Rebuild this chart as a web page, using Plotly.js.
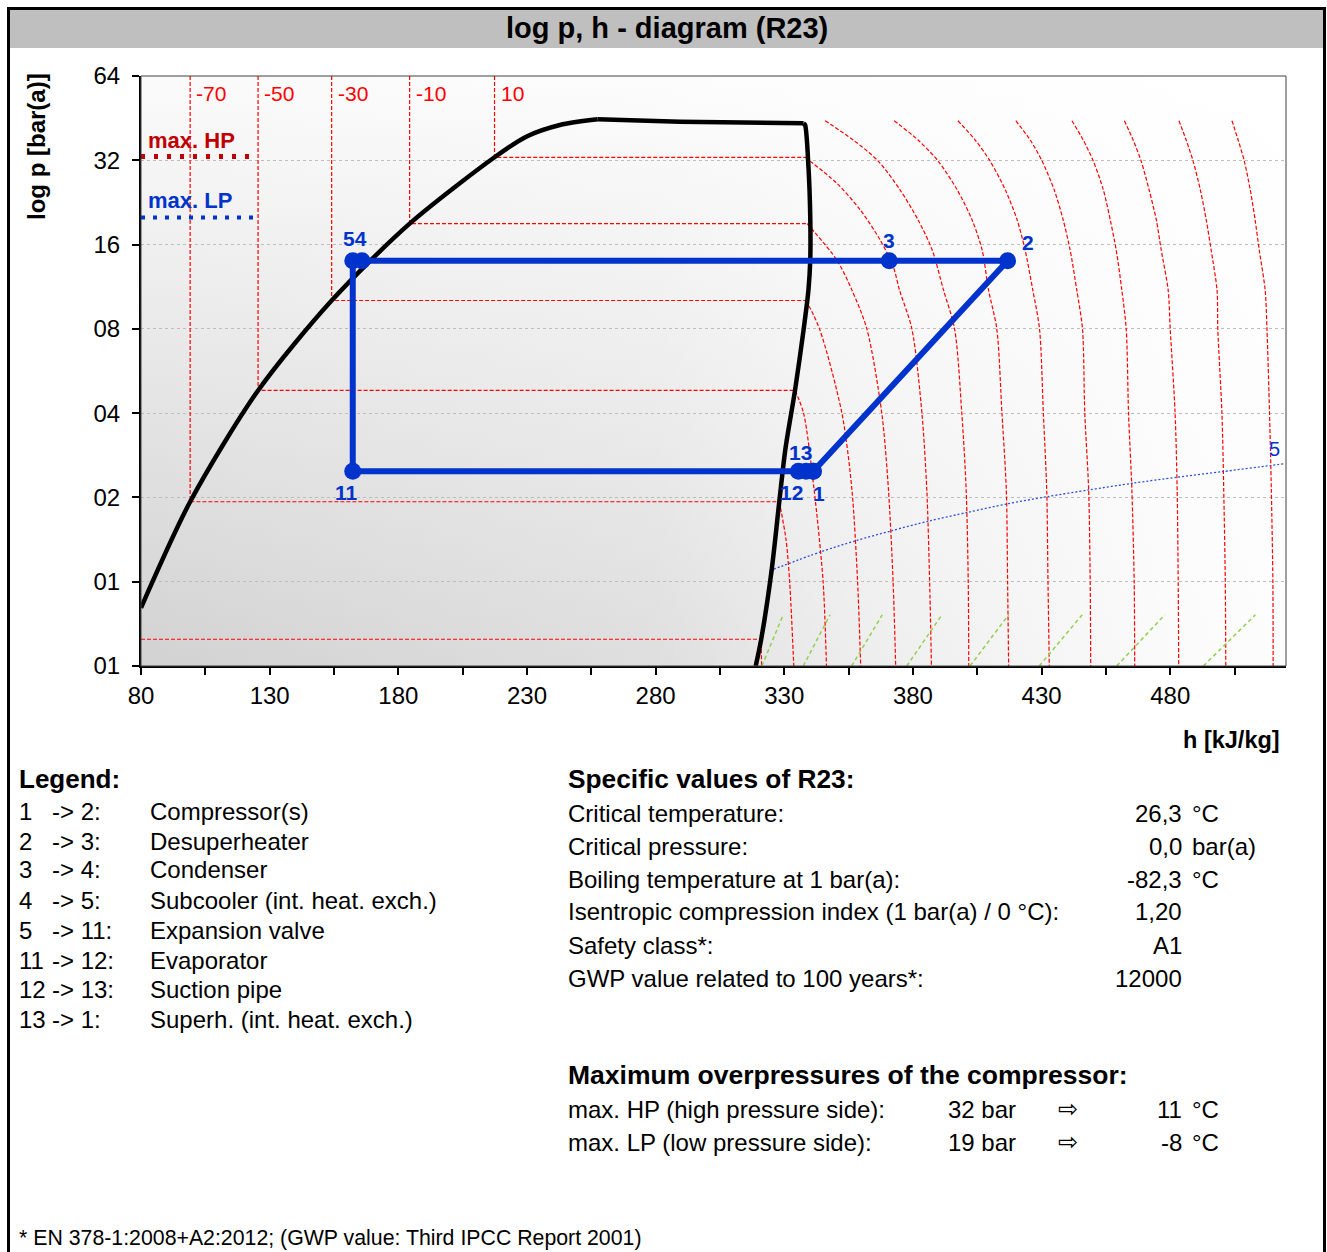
<!DOCTYPE html>
<html><head><meta charset="utf-8">
<script src="https://cdn.plot.ly/plotly-3.0.1.min.js"></script>
<style>html,body{margin:0;padding:0;background:#fff;} #chart{width:1327px;height:1252px;}</style>
</head><body><div id="chart"></div>
<script>
// ---------------- DATA ----------------
// saturation dome: liquid line (to the top), vapour line (from the top corner down)
const liqH = [80, 99.1, 125.5, 154.1, 184.4, 217.4, 229.7, 242.8, 257.5];
const liqP = [0.807, 1.93, 4.82, 10.1, 19.0, 32.8, 38.85, 42.77, 44.82];
const domeTopH = [257.5, 289.5, 337.5];
const domeTopP = [44.82, 43.94, 43.37];
const vapH = [337.5, 338.1, 339.4, 340.1, 340.1, 339.4, 337.5, 334.2, 330.4, 328.1, 325.1, 321.0, 318.9];
const vapP = [43.37, 42.77, 30.37, 20.11, 14.10, 11.01, 7.93, 4.84, 2.958, 1.943, 1.10, 0.620, 0.50];

// isotherms that start in the two-phase region (°C)
const isoLowTemps = [-90, -70, -50, -30, -10, 10];
const isoM90H = [80, 321.0, 321.2];
const isoM90P = [0.623, 0.623, 0.5];
const isoM70H = [99.1, 99.1, 328.1, 330.7, 332.1, 333.7];
const isoM70P = [64, 1.93, 1.93, 1.41, 1.0, 0.5];
const isoM50H = [125.5, 125.5, 334.2, 337.5, 341.6, 345.1, 346.4];
const isoM50P = [64, 4.82, 4.82, 4.0, 2.13, 1.0, 0.5];
const isoM30H = [154.1, 154.1, 338.5, 343.7, 352.4, 356.3, 358.5, 359.7];
const isoM30P = [64, 10.1, 10.1, 8.0, 4.0, 2.13, 1.0, 0.5];
const isoM10H = [184.4, 184.4, 338.9, 350.4, 356.3, 362.1, 367.9, 370.5, 372.3, 373.3];
const isoM10P = [64, 19.0, 19.0, 14.1, 11.0, 8.0, 4.0, 2.13, 1.0, 0.5];
const isoP10H = [217.4, 217.4, 338.1, 350.4, 359.5, 367.3, 372.4, 374.8, 379.6, 383.5, 385.4, 386.5, 387.2];
const isoP10P = [64, 32.8, 32.8, 26.5, 21.3, 16.6, 13.3, 11.0, 8.0, 4.0, 2.13, 1.0, 0.5];
const isoTopLabels = ['-70', '-50', '-30', '-10', '10'];
const isoTopLabelH = [99.1, 125.5, 154.1, 184.4, 217.4];

// supercritical / superheated isotherms on a shared pressure grid
const shTemps = [30, 50, 70, 90, 110, 130, 150, 170];
const shP = [44.3, 37.8, 31.8, 25.1, 19.6, 15.3, 11.0, 8.0, 4.0, 2.13, 1.0, 0.5];
const iso30H  = [345.9, 356.8, 366.5, 375.0, 382.0, 387.5, 391.9, 396.2, 399.0, 400.7, 401.5, 401.7];
const iso50H  = [372.7, 382.0, 389.8, 397.2, 403.0, 406.9, 409.4, 412.6, 414.6, 416.3, 416.8, 417.2];
const iso70H  = [397.5, 404.2, 410.0, 415.9, 420.5, 423.6, 426.6, 429.2, 430.7, 432.0, 432.5, 433.0];
const iso90H  = [420.0, 425.6, 430.2, 434.9, 438.4, 441.1, 443.7, 445.9, 446.8, 448.3, 448.9, 449.1];
const iso110H = [441.8, 446.2, 450.1, 454.0, 456.7, 459.0, 461.2, 462.9, 463.8, 465.1, 466.0, 466.2];
const iso130H = [462.2, 465.6, 468.7, 471.8, 474.6, 476.5, 479.2, 480.0, 481.9, 482.7, 483.1, 483.3];
const iso150H = [483.4, 486.2, 488.9, 491.7, 494.0, 495.9, 498.2, 498.5, 500.1, 500.8, 501.4, 501.6];
const iso170H = [504.0, 506.4, 508.8, 511.1, 513.0, 514.6, 516.9, 517.6, 518.6, 519.3, 519.9, 520.0];

// short green lines near the bottom
const greenP = [0.5, 0.762];
const greenH = [[321.3, 329.6], [337.4, 347.8], [356.2, 368.1], [377.6, 391.3], [402.2, 417.2], [429.1, 445.8], [459.2, 477.9], [492.9, 513.1]];

// blue dotted line "5"
const line5H = [324.4, 344.2, 357.9, 371.5, 386.5, 401.5, 416.5, 432.2, 448.5, 465.6, 482.6, 500.7, 518.9, 524.3];
const line5P = [1.095, 1.279, 1.402, 1.519, 1.649, 1.771, 1.896, 2.013, 2.128, 2.249, 2.362, 2.475, 2.600, 2.636];

// refrigeration cycle 1-2-3-4-5-11-12-13-1
const cycleNames = ['1', '2', '3', '4', '5', '11', '12', '13', '1'];
const cycleH = [341.3, 416.8, 370.8, 165.9, 162.3, 162.3, 335.5, 338.5, 341.3];
const cycleP = [2.48, 14.0, 14.0, 14.0, 14.0, 2.48, 2.48, 2.48, 2.48];

// compressor limits (absolute pressure)
const maxHP_P = 33, maxLP_P = 20;
const limitH = [80, 124];

// axis ticks
const xTickVals = [80, 105, 130, 155, 180, 205, 230, 255, 280, 305, 330, 355, 380, 405, 430, 455, 480, 505];
const xTickText = ['80', '', '130', '', '180', '', '230', '', '280', '', '330', '', '380', '', '430', '', '480', ''];
const yTickVals = [0.5, 1, 2, 4, 8, 16, 32, 64];
const yTickText = ['01', '01', '02', '04', '08', '16', '32', '64'];

// text blocks
const legendFrom = ['1', '2', '3', '4', '5', '11', '12', '13'];
const legendTo = ['-> 2:', '-> 3:', '-> 4:', '-> 5:', '-> 11:', '-> 12:', '-> 13:', '-> 1:'];
const legendDesc = ['Compressor(s)', 'Desuperheater', 'Condenser', 'Subcooler (int. heat. exch.)', 'Expansion valve', 'Evaporator', 'Suction pipe', 'Superh. (int. heat. exch.)'];
const specLabels = ['Critical temperature:', 'Critical pressure:', 'Boiling temperature at 1 bar(a):', 'Isentropic compression index (1 bar(a) / 0 °C):', 'Safety class*:', 'GWP value related to 100 years*:'];
const specValues = ['26,3', '0,0', '-82,3', '1,20', 'A1', '12000'];
const specUnits = ['°C', 'bar(a)', '°C', '', '', ''];
const maxLabels = ['max. HP (high pressure side):', 'max. LP (low pressure side):'];
const maxBar = ['32 bar', '19 bar'];
const maxTemp = ['11', '-8'];

// ---------------- LAYOUT HELPERS ----------------
const L = 141, R = 1286, T = 76, B = 666;
const px = x => (x - L) / (R - L);
const py = y => (B - y) / (B - T);
const FONT = 'Arial, "Liberation Sans", sans-serif';
const RED = '#ff0000', BLUE = '#0033cc';

function makeBg() {
  const w = 1145, h = 590;
  const c = document.createElement('canvas'); c.width = w; c.height = h;
  const g = c.getContext('2d');
  const v = g.createLinearGradient(0, 0, 0, h);
  v.addColorStop(0, '#fbfbfb'); v.addColorStop(1, '#d2d2d2');
  g.fillStyle = v; g.fillRect(0, 0, w, h);
  const hz = g.createLinearGradient(0, 0, w, 0);
  hz.addColorStop(0, 'rgba(255,255,255,0)');
  hz.addColorStop(0.45, 'rgba(255,255,255,0.28)');
  hz.addColorStop(0.62, 'rgba(255,255,255,0.6)');
  hz.addColorStop(0.9, 'rgba(255,255,255,0.9)');
  hz.addColorStop(1, 'rgba(255,255,255,0.95)');
  g.fillStyle = hz; g.fillRect(0, 0, w, h);
  return c.toDataURL();
}

const traces = [];
function line(h, p, color, width, dash, shape) {
  traces.push({type: 'scatter', mode: 'lines', x: h, y: p,
               line: {color: color, width: width, dash: dash, shape: shape || 'linear', smoothing: 0.8},
               hoverinfo: 'skip', showlegend: false});
}
// isotherms: straight two-phase part + smooth superheated part
const isoDash = '4px,2px';
[[isoM90H, isoM90P], [isoM70H, isoM70P], [isoM50H, isoM50P], [isoM30H, isoM30P], [isoM10H, isoM10P], [isoP10H, isoP10P]]
  .forEach(a => {
    line(a[0].slice(0, 3), a[1].slice(0, 3), RED, 1.2, isoDash);
    if (a[0].length > 3) line(a[0].slice(2), a[1].slice(2), RED, 1.2, isoDash, 'spline');
  });
[iso30H, iso50H, iso70H, iso90H, iso110H, iso130H, iso150H, iso170H].forEach(h => line(h, shP, RED, 1.2, isoDash, 'spline'));
// green lines
greenH.forEach(h => line(h, greenP, '#92d050', 1.5, '4px,3px'));
// blue dotted line
line(line5H, line5P, '#2a4fd8', 1.3, '2px,2px', 'spline');
// saturation dome
line(liqH, liqP, '#000000', 4.5, 'solid', 'spline');
line(domeTopH, domeTopP, '#000000', 4.5, 'solid');
line(vapH, vapP, '#000000', 4.5, 'solid', 'spline');
// limits
line(limitH, [maxHP_P, maxHP_P], '#c00000', 5, '4px,9px');
line(limitH, [maxLP_P, maxLP_P], BLUE, 4, '4px,8px');
// cycle
traces.push({type: 'scatter', mode: 'lines+markers', x: cycleH, y: cycleP,
  line: {color: BLUE, width: 6}, marker: {color: BLUE, size: 17},
  hoverinfo: 'skip', showlegend: false});

// ---------------- ANNOTATIONS ----------------
const ann = [];
function txt(x, y, text, size, opts) {
  ann.push(Object.assign({xref: 'paper', yref: 'paper', x: px(x), y: py(y), text: text, showarrow: false,
    borderpad: 0, borderwidth: 0,
    xanchor: 'left', yanchor: 'middle', font: {family: FONT, size: size, color: '#000'}}, opts || {}));
}
// titles
txt(667, 28, '<b>log p, h - diagram (R23)</b>', 29, {xanchor: 'center'});
txt(36, 147, '<b>log p [bar(a)]</b>', 24, {xanchor: 'center', textangle: -90});
txt(1280, 740, '<b>h [kJ/kg]</b>', 23.5, {xanchor: 'right'});
// isotherm labels at top
isoTopLabels.forEach((t, i) => ann.push({xref: 'x', yref: 'paper', x: isoTopLabelH[i], y: py(93), text: t,
  showarrow: false, borderpad: 0, xanchor: 'left', yanchor: 'middle', xshift: 5, font: {family: FONT, size: 21, color: RED}}));
// limit labels
ann.push({xref: 'x', yref: 'y', x: 80, y: Math.log10(maxHP_P), text: '<b>max. HP</b>', showarrow: false, borderpad: 0,
  xanchor: 'left', yanchor: 'bottom', xshift: 6, yshift: 3, font: {family: FONT, size: 22, color: '#c00000'}});
ann.push({xref: 'x', yref: 'y', x: 80, y: Math.log10(maxLP_P), text: '<b>max. LP</b>', showarrow: false, borderpad: 0,
  xanchor: 'left', yanchor: 'bottom', xshift: 6, yshift: 3, font: {family: FONT, size: 22, color: BLUE}});
// cycle point labels
const cyLab = [
  {i: 4, t: '54', dx: 2, dy: 22}, {i: 2, t: '3', dx: 0, dy: 20}, {i: 1, t: '2', dx: 20, dy: 18},
  {i: 5, t: '11', dx: -6, dy: -21}, {i: 7, t: '13', dx: -6, dy: 19}, {i: 6, t: '12', dx: -7, dy: -21},
  {i: 0, t: '1', dx: 6, dy: -22}];
cyLab.forEach(c => ann.push({xref: 'x', yref: 'y', x: cycleH[c.i], y: Math.log10(cycleP[c.i]), text: '<b>' + c.t + '</b>',
  showarrow: false, borderpad: 0, xanchor: 'center', yanchor: 'middle', xshift: c.dx, yshift: c.dy,
  font: {family: FONT, size: 21, color: BLUE}}));
ann.push({xref: 'x', yref: 'y', x: line5H[line5H.length - 1], y: Math.log10(line5P[line5P.length - 1]), text: '5',
  showarrow: false, borderpad: 0, xanchor: 'center', yanchor: 'middle', xshift: -10, yshift: 15,
  font: {family: FONT, size: 20, color: BLUE}});

// legend block
txt(19, 779, '<b>Legend:</b>', 26);
const legY = [811, 841, 870, 900, 930, 960, 989, 1019];
legendFrom.forEach((f, i) => {
  txt(19, legY[i], f, 24);
  txt(52, legY[i], legendTo[i], 24);
  txt(150, legY[i], legendDesc[i], 24);
});
// specific values block
txt(568, 779, '<b>Specific values of R23:</b>', 26.3);
const specY = [813, 846, 879, 912, 945, 978];
specLabels.forEach((s, i) => {
  txt(568, specY[i], s, 24);
  txt(1182, specY[i], specValues[i], 24, {xanchor: 'right'});
  if (specUnits[i]) txt(1192, specY[i], specUnits[i], 24);
});
txt(568, 1075, '<b>Maximum overpressures of the compressor:</b>', 26.5);
const maxY = [1109, 1142];
maxLabels.forEach((s, i) => {
  txt(568, maxY[i], s, 24);
  txt(948, maxY[i], maxBar[i], 24);
  txt(1068, maxY[i], '⇨', 24, {xanchor: 'center', font: {family: '"DejaVu Sans", sans-serif', size: 24, color: '#000'}});
  txt(1182, maxY[i], maxTemp[i], 24, {xanchor: 'right'});
  txt(1192, maxY[i], '°C', 24);
});
txt(19, 1238, '* EN 378-1:2008+A2:2012; (GWP value: Third IPCC Report 2001)', 21.3);

// ---------------- LAYOUT ----------------
const layout = {
  width: 1327, height: 1252,
  margin: {l: L, r: 1327 - R, t: T, b: 1252 - B, pad: 0},
  paper_bgcolor: '#ffffff', plot_bgcolor: 'rgba(0,0,0,0)',
  showlegend: false,
  font: {family: FONT, color: '#000'},
  xaxis: {range: [80, 525], tickvals: xTickVals, ticktext: xTickText, ticks: 'outside', ticklen: 7, tickwidth: 2,
          tickcolor: '#000', showgrid: false, zeroline: false, showline: true, linecolor: '#000', linewidth: 2,
          tickfont: {family: FONT, size: 24, color: '#000'}, fixedrange: true},
  yaxis: {type: 'log', range: [Math.log10(0.5), Math.log10(64)], tickvals: yTickVals, ticktext: yTickText,
          ticks: 'outside', ticklen: 7, tickwidth: 2, tickcolor: '#000', showgrid: true, gridcolor: '#bdbdbd',
          gridwidth: 1, griddash: 'dot', zeroline: false, showline: true, linecolor: '#000', linewidth: 2,
          ticklabelstandoff: 7,
          tickfont: {family: FONT, size: 24, color: '#000'}, fixedrange: true},
  images: [{source: makeBg(), xref: 'paper', yref: 'paper', x: 0, y: 1, sizex: 1, sizey: 1,
            sizing: 'stretch', layer: 'below', xanchor: 'left', yanchor: 'top'}],
  shapes: [
    {type: 'rect', xref: 'paper', yref: 'paper', x0: px(8), x1: px(1325), y0: py(48), y1: py(8),
     fillcolor: '#bfbfbf', line: {width: 0}, layer: 'below'},
    {type: 'rect', xref: 'paper', yref: 'paper', x0: 0, x1: 1, y0: 0, y1: 1,
     line: {color: '#404040', width: 1}},
    {type: 'rect', xref: 'paper', yref: 'paper', x0: px(8.5), x1: px(1324.5), y0: py(1270), y1: py(8.5),
     line: {color: '#000', width: 3}}
  ],
  annotations: ann
};
Plotly.newPlot('chart', traces, layout, {staticPlot: true, displayModeBar: false});
</script></body></html>
